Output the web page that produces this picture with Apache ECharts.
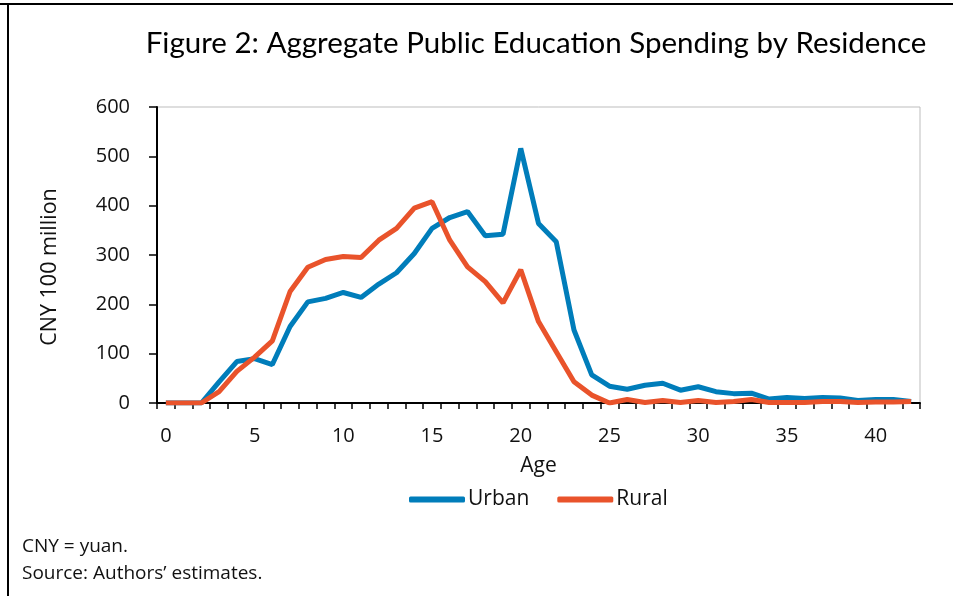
<!DOCTYPE html>
<html>
<head>
<meta charset="utf-8">
<script src="https://cdn.jsdelivr.net/npm/echarts@6/dist/echarts.min.js"></script>
<style>
html,body{margin:0;padding:0;background:#fff;}
#chart{width:959px;height:596px;}
</style>
</head>
<body>
<div id="chart"></div>
<script>
var ages = [];
for (var a = 0; a <= 42; a++) ages.push(String(a));
var urban = [0,0,0,43,84,90,78,155,205,212,224,214,241,264,303,354,376,388,339,342,516,364,327,148,57,34,28,36,40,26,33,23,19,20,8,11,9,11,10,5,7,7,3];
var rural = [0,0,0,23,64,93,126,226,275,291,297,295,330,354,395,408,330,276,246,203,270,165,104,43,16,0,7,1,5,1,5,1,3,7,1,1,1,3,3,1,2,2,3];
var yTicks = [0,100,200,300,400,500,600];
var titleText = 'Figure 2: Aggregate Public Education Spending by Residence';
var yName = 'CNY 100 million';
var notes = ['CNY = yuan.', 'Source: Authors\u2019 estimates.'];

var FONT = '"Open Sans", Lato, sans-serif';
var TFONT = 'Lato, "Open Sans", sans-serif';
var chart = echarts.init(document.getElementById('chart'), null, {renderer: 'canvas'});
chart.setOption({
  animation: false,
  backgroundColor: '#fff',
  textStyle: {fontFamily: FONT},
  grid: {left: 157, right: 39, top: 107, bottom: 193, show: true, borderColor: '#bdbdbd', borderWidth: 1},
  xAxis: {
    type: 'category',
    data: ages,
    boundaryGap: true,
    name: 'Age',
    nameLocation: 'middle',
    nameGap: 53,
    nameTextStyle: {fontSize: 21, color: '#111', fontFamily: FONT},
    axisLine: {lineStyle: {color: '#000', width: 2}},
    axisTick: {show: true, interval: 0, length: 6, lineStyle: {color: '#000', width: 1.5}},
    axisLabel: {interval: 4, fontSize: 20, color: '#111', margin: 23, fontFamily: FONT},
    splitLine: {show: false}
  },
  yAxis: {
    type: 'value',
    min: yTicks[0],
    max: yTicks[yTicks.length - 1],
    interval: 100,
    axisLine: {show: true, lineStyle: {color: '#000', width: 2}},
    axisTick: {show: true, length: 8, lineStyle: {color: '#000', width: 1.5}},
    axisLabel: {fontSize: 20, color: '#111', margin: 27, fontFamily: FONT},
    splitLine: {show: false}
  },
  legend: {
    left: 409,
    top: 489,
    padding: 0,
    itemWidth: 56,
    itemHeight: 6,
    itemGap: 28,
    icon: 'roundRect',
    textStyle: {fontSize: 21, color: '#111', padding: [0, 0, 0, -2], fontFamily: FONT},
    data: ['Urban', 'Rural']
  },
  series: [
    {name: 'Urban', type: 'line', data: urban, showSymbol: false, symbol: 'none',
     lineStyle: {color: '#007DBA', width: 5}, itemStyle: {color: '#007DBA'}},
    {name: 'Rural', type: 'line', data: rural, showSymbol: false, symbol: 'none',
     lineStyle: {color: '#E9532B', width: 5}, itemStyle: {color: '#E9532B'}}
  ],
  graphic: [
    {type: 'rect', shape: {x: 0, y: 3, width: 953, height: 2}, style: {fill: '#000'}},
    {type: 'rect', shape: {x: 7, y: 3, width: 2, height: 596}, style: {fill: '#000'}},
    {type: 'text', x: 536, y: 43, style: {text: titleText, font: '29.5px ' + TFONT, fill: '#000', textAlign: 'center', textVerticalAlign: 'middle'}},
    {type: 'text', x: 50, y: 267, rotation: Math.PI / 2, style: {text: yName, font: '21.5px ' + FONT, fill: '#111', textAlign: 'center', textVerticalAlign: 'middle'}},
    {type: 'text', x: 22, y: 547, style: {text: notes[0], font: '19px ' + FONT, fill: '#111', textAlign: 'left', textVerticalAlign: 'middle'}},
    {type: 'text', x: 22, y: 574, style: {text: notes[1], font: '19px ' + FONT, fill: '#111', textAlign: 'left', textVerticalAlign: 'middle'}}
  ]
});
</script>
</body>
</html>
